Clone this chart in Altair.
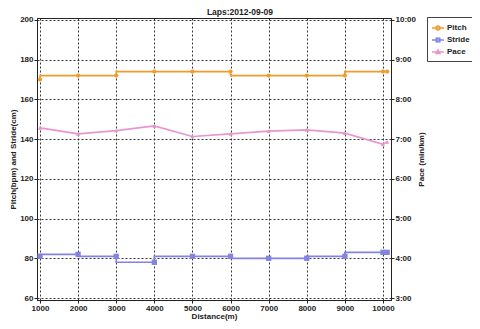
import altair as alt
import pandas as pd

# ---- data ----
distance = [1000, 2000, 3000, 4000, 5000, 6000, 7000, 8000, 9000, 10000, 10110]
pitch = [170, 172, 172, 174, 174, 174, 172, 172, 172, 174, 174]
stride = [81, 82, 81, 78, 81, 81, 80, 80, 81, 83, 83]
pace_sec = [437, 428, 433, 440, 424, 428, 432, 434, 429, 412, 416]  # seconds per km

series_names = ["Pitch", "Stride", "Pace"]
series_colors = ["#F29B2A", "#8383E2", "#E896CF"]
left_ticks = [60, 80, 100, 120, 140, 160, 180, 200]
right_ticks = [180, 240, 300, 360, 420, 480, 540, 600]
x_ticks = [1000, 2000, 3000, 4000, 5000, 6000, 7000, 8000, 9000, 10000]

df = pd.DataFrame({"distance": distance, "pitch": pitch, "stride": stride, "pace": pace_sec})
legend_df = pd.DataFrame({"series": series_names})

# legend symbols: a short line with a marker in the middle
legend_shapes = [
    "M-1,0L1,0M0.33,0A0.33,0.33,0,1,1,-0.33,0A0.33,0.33,0,1,1,0.33,0",
    "M-1,0L1,0M-0.3,-0.3L0.3,-0.3L0.3,0.3L-0.3,0.3Z",
    "M-1,0L1,0M0,-0.35L0.33,0.25L-0.33,0.25Z",
]

FONT = "Liberation Sans"

x_enc = alt.X(
    "distance:Q",
    scale=alt.Scale(domain=[921, 10210], nice=False, zero=False),
    axis=alt.Axis(values=x_ticks, format="d", title="Distance(m)", grid=True, titlePadding=0),
)
yl_scale = alt.Scale(domain=[59, 201], nice=False, zero=False)
yl_axis = alt.Axis(values=left_ticks, title="Pitch(bpm) and Stride(cm)", grid=True, titlePadding=2)

base = alt.Chart(df)

pitch_line = base.mark_line(interpolate="step-before", color=series_colors[0], strokeWidth=1.7).encode(
    x=x_enc, y=alt.Y("pitch:Q", scale=yl_scale, axis=yl_axis)
)
pitch_pts = base.mark_circle(color=series_colors[0], size=18, opacity=1).encode(
    x=x_enc, y=alt.Y("pitch:Q", scale=yl_scale, axis=yl_axis)
)
stride_line = base.mark_line(interpolate="step-before", color=series_colors[1], strokeWidth=1.7).encode(
    x=x_enc, y=alt.Y("stride:Q", scale=yl_scale, axis=yl_axis)
)
stride_pts = base.mark_square(color=series_colors[1], size=28, opacity=1).encode(
    x=x_enc, y=alt.Y("stride:Q", scale=yl_scale, axis=yl_axis)
)

leg = alt.Legend(
    title=None,
    orient="none",
    legendX=390,
    legendY=-1,
    padding=4,
    strokeColor="#444",
    fillColor="white",
    symbolSize=144,
    symbolStrokeWidth=1.5,
    symbolOpacity=1,
    labelFont=FONT,
    labelFontSize=8,
    labelFontWeight="bold",
    labelColor="#222",
    labelOffset=2,
    rowPadding=0,
)
legend_layer = alt.Chart(legend_df).mark_point(opacity=0, filled=False).encode(
    color=alt.Color("series:N", scale=alt.Scale(domain=series_names, range=series_colors), legend=leg),
    shape=alt.Shape("series:N", scale=alt.Scale(domain=series_names, range=legend_shapes), legend=leg),
)

left = alt.layer(pitch_line, pitch_pts, stride_line, stride_pts, legend_layer)

yr_scale = alt.Scale(domain=[177, 603], nice=False, zero=False)
yr_axis = alt.Axis(
    orient="right",
    values=right_ticks,
    grid=False,
    title="Pace (min/km)",
    titleAngle=270,
    titleBaseline="top",
    titlePadding=2,
    labelExpr="floor(datum.value / 60) + ':' + (datum.value % 60 < 10 ? '0' : '') + (datum.value % 60)",
)
pace_line = base.mark_line(color=series_colors[2], strokeWidth=1.7).encode(
    x=x_enc, y=alt.Y("pace:Q", scale=yr_scale, axis=yr_axis)
)
pace_pts = base.mark_point(shape="triangle-up", filled=True, color=series_colors[2], size=18, opacity=1).encode(
    x=x_enc, y=alt.Y("pace:Q", scale=yr_scale, axis=yr_axis)
)
right = alt.layer(pace_line, pace_pts)

chart = (
    alt.layer(left, right)
    .resolve_scale(y="independent")
    .properties(
        width=354,
        height=282,
        title=alt.TitleParams(
            "Laps:2012-09-09", font=FONT, fontSize=8.5, fontWeight="bold", color="#222",
            anchor="middle", frame="group", dx=26, dy=11, offset=3, baseline="alphabetic",
        ),
        autosize=alt.AutoSizeParams(type="none"),
        padding={"left": 29, "top": 10, "right": 81, "bottom": 21},
        background="white",
    )
    .configure_view(stroke="#222", strokeWidth=1)
    .configure_axis(
        labelFont=FONT,
        labelFontSize=8,
        labelFontWeight="bold",
        labelColor="#222",
        titleFont=FONT,
        titleFontSize=8,
        titleFontWeight="bold",
        titleColor="#222",
        domainColor="#222",
        tickColor="#222",
        tickSize=3,
        labelPadding=1,
        gridColor="#222",
        gridDash=[2, 2],
        gridOpacity=0.9,
    )
)

chart.save("out.html", embed_options={"renderer": "svg", "actions": False})
